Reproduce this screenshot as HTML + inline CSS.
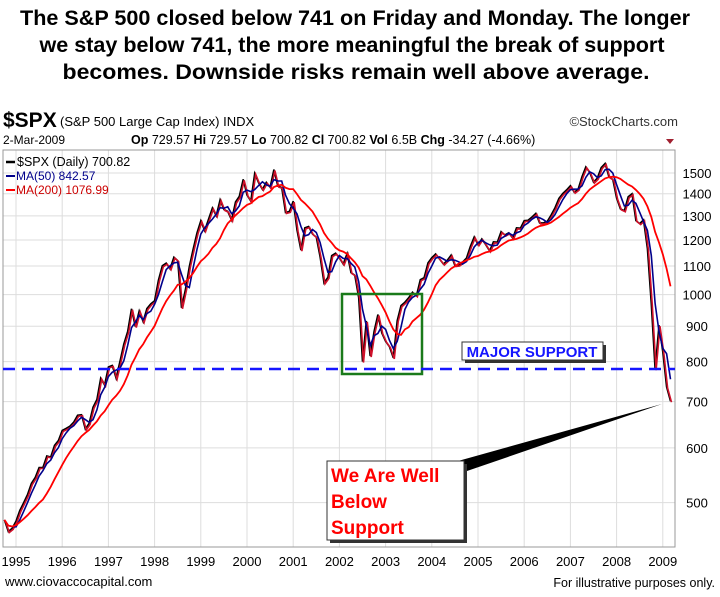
<!DOCTYPE html>
<html><head><meta charset="utf-8"><style>
body{margin:0;width:720px;height:597px;background:#fff;overflow:hidden;font-family:"Liberation Sans",sans-serif;}
svg{position:absolute;left:0;top:0}
</style></head><body>
<svg width="720" height="597" xmlns="http://www.w3.org/2000/svg">
<g font-weight="bold" font-size="21.5" text-anchor="middle" fill="#000">
<text x="355" y="25" textLength="670" lengthAdjust="spacingAndGlyphs">The S&amp;P 500 closed below 741 on Friday and Monday.  The longer</text>
<text x="352" y="52" textLength="625" lengthAdjust="spacingAndGlyphs">we stay below 741, the more meaningful the break of support</text>
<text x="356" y="79" textLength="587" lengthAdjust="spacingAndGlyphs">becomes.  Downside risks remain well above average.</text>
</g>
<g>
<text x="3" y="127" font-size="21" font-weight="bold">$SPX</text>
<text x="60" y="126" font-size="13">(S&amp;P 500 Large Cap Index) INDX</text>
<text x="678" y="126" font-size="13" text-anchor="end" fill="#333">©StockCharts.com</text>
<text x="3" y="144" font-size="12">2-Mar-2009</text>
<text x="131" y="144" font-size="12.5"><tspan font-weight="bold">Op</tspan> 729.57 <tspan font-weight="bold">Hi</tspan> 729.57 <tspan font-weight="bold">Lo</tspan> 700.82 <tspan font-weight="bold">Cl</tspan> 700.82 <tspan font-weight="bold">Vol</tspan> 6.5B <tspan font-weight="bold">Chg</tspan> -34.27 (-4.66%)</text>
<path d="M666,139 l8,0 l-4,5z" fill="#a02030"/>
</g>
<g id="grid"></g>
<rect x="3" y="150" width="672" height="397" fill="none" stroke="#999"/>
<g id="marks"></g>
<g id="axes" font-size="13" fill="#000"></g>
<g font-size="12.5">
<line x1="6" y1="162" x2="15" y2="162" stroke="#000" stroke-width="2.5"/><text x="17" y="166" fill="#000">$SPX (Daily) 700.82</text>
<line x1="6" y1="176" x2="15" y2="176" stroke="#00008b" stroke-width="2"/><text x="16" y="180" fill="#00008b" font-size="12">MA(50) 842.57</text>
<line x1="6" y1="190" x2="15" y2="190" stroke="red" stroke-width="2"/><text x="16" y="194" fill="#c00" font-size="12">MA(200) 1076.99</text>
</g>
<rect x="342" y="294" width="80" height="80" fill="none" stroke="#1a7a1a" stroke-width="2.5"/>
<line x1="3" y1="369" x2="675" y2="369" stroke="#1515ff" stroke-width="2.5" stroke-dasharray="12,7"/>
<g>
<rect x="465" y="345" width="141" height="18" fill="#333"/>
<rect x="462" y="342" width="141" height="18" fill="#fff" stroke="#333"/>
<text x="532" y="357" text-anchor="middle" font-size="15" font-weight="bold" fill="#1515ff">MAJOR SUPPORT</text>
</g>
<polygon points="458,461 662,404 467,471" fill="#000"/>
<g>
<rect x="330" y="464" width="137" height="79" fill="#333"/>
<rect x="327" y="461" width="137" height="79" fill="#fff" stroke="#333"/>
<g font-size="19" font-weight="bold" fill="#ff0000">
<text x="331" y="482">We Are Well</text><text x="331" y="508">Below</text><text x="331" y="534">Support</text>
</g></g>
<text x="5" y="586" font-size="13" fill="#000">www.ciovaccocapital.com</text>
<text x="715" y="587" font-size="12.5" text-anchor="end">For illustrative purposes only.</text>
</svg>
<script>
const years=[1995,1996,1997,1998,1999,2000,2001,2002,2003,2004,2005,2006,2007,2008,2009];
const yTicks=[500,600,700,800,900,1000,1100,1200,1300,1400,1500];
const startYear=1994.75;
const spxMonthly=[472,454,459,
470,487,500,514,533,544,562,562,584,582,605,615,
636,640,645,654,669,670,639,651,687,705,757,740,
786,790,757,801,848,885,954,899,947,914,955,970,
980,1049,1101,1111,1090,1133,1120,957,1017,1098,1163,1229,
1279,1238,1286,1335,1301,1372,1328,1320,1282,1362,1388,1469,
1394,1366,1498,1452,1420,1454,1430,1517,1436,1429,1315,1320,
1366,1240,1160,1249,1255,1224,1211,1134,1040,1059,1139,1148,
1130,1107,1147,1076,1067,990,800,916,815,885,936,880,
856,841,810,917,964,975,990,1008,996,1051,1058,1112,
1131,1145,1126,1107,1121,1141,1102,1104,1115,1130,1174,1212,
1181,1204,1181,1157,1192,1191,1234,1220,1229,1207,1249,1248,
1280,1281,1295,1311,1270,1270,1277,1304,1336,1378,1401,1418,
1438,1407,1421,1482,1531,1503,1455,1474,1527,1549,1481,1468,
1379,1331,1323,1386,1400,1280,1267,1283,1166,969,780,903,
826,735,701];
const x=t=>16+46.2*(t-1995);
const y=v=>173+300*Math.log(1500/v);
const NS='http://www.w3.org/2000/svg';
function mk(tag,attrs,parent){const e=document.createElementNS(NS,tag);for(const k in attrs)e.setAttribute(k,attrs[k]);document.getElementById(parent).appendChild(e);return e;}
yTicks.forEach(v=>{
 const l=mk('line',{x1:3,x2:675,y1:y(v),y2:y(v),stroke:'#ddd'},'grid');
 
 
 const t=mk('text',{x:697,y:y(v)+5,'text-anchor':'middle'},'axes');t.textContent=v;
 
 
});
years.forEach(yr=>{
 const l=mk('line',{x1:x(yr),x2:x(yr),y1:150,y2:547,stroke:'#ddd'},'grid');
 
 
 const t=mk('text',{x:x(yr),y:566,'text-anchor':'middle'},'axes');t.textContent=yr;
 
 
});
const tOf=i=>startYear+i/12;
function ma(n){return spxMonthly.map((v,i)=>{const s=spxMonthly.slice(Math.max(0,i-n+1),i+1);return s.reduce((a,b)=>a+b,0)/s.length;});}
function path(arr,lag){return arr.map((v,i)=>(i?'L':'M')+x(tOf(i)).toFixed(1)+','+y(v).toFixed(1)).join('');}
const p1=mk('path',{d:path(spxMonthly),fill:'none',stroke:'#000','stroke-width':1.6},'marks');


const p2=mk('path',{d:path(spxMonthly),fill:'none',stroke:'#d0102a','stroke-width':1.6,transform:'translate(1,1)'},'marks');


const p3=mk('path',{d:path(ma(3)),fill:'none',stroke:'#00008b','stroke-width':1.6},'marks');


const p4=mk('path',{d:path(ma(11)),fill:'none',stroke:'red','stroke-width':1.8},'marks');


</script>
</body></html>
